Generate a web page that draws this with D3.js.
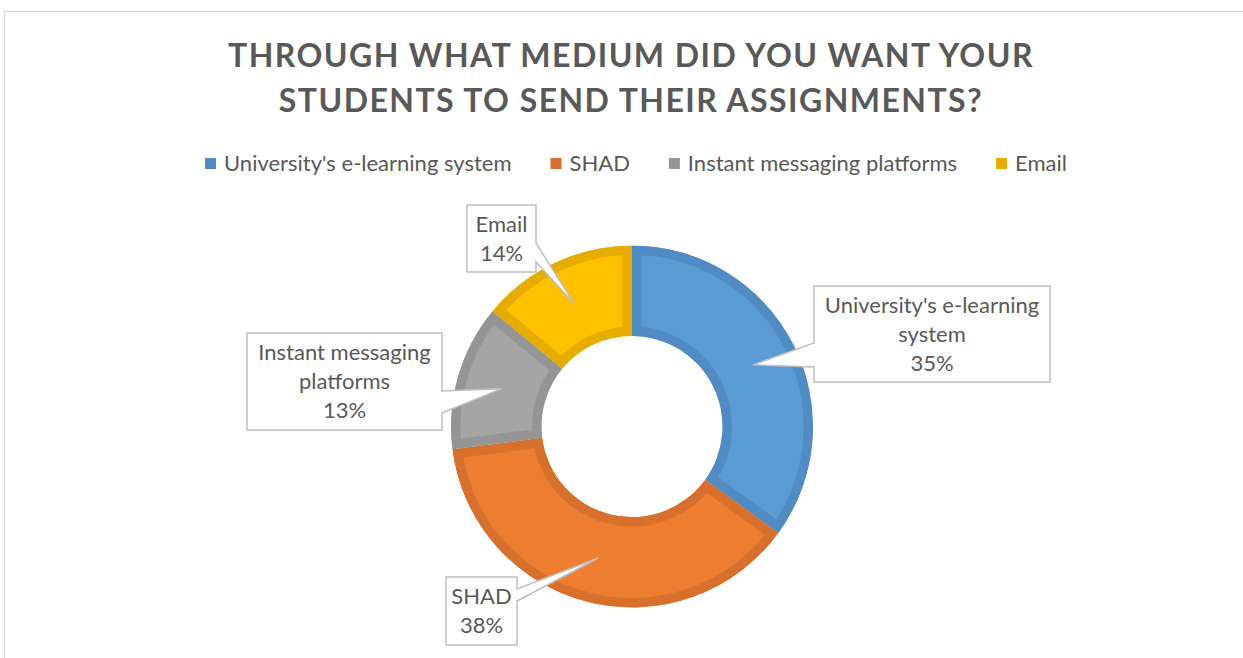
<!DOCTYPE html>
<html>
<head>
<meta charset="utf-8">
<script src="https://cdn.jsdelivr.net/npm/d3@7"></script>
<style>
	html, body { margin: 0; padding: 0; background: #fff; }
	svg { display: block; font-family: Lato, "Open Sans", sans-serif; }
</style>
</head>
<body>
<svg id="chart"></svg>
<script>
const titleLines = ['THROUGH WHAT MEDIUM DID YOU WANT YOUR', 'STUDENTS TO SEND THEIR ASSIGNMENTS?']
const categories = ["University's e-learning system", 'SHAD', 'Instant messaging platforms', 'Email']
const shares = [35, 38, 13, 14]
const fills = ['#5b9bd5', '#ed7d31', '#a5a5a5', '#ffc000']
const edges = ['#508bc3', '#d7702c', '#959595', '#e6ad00']

const W = 1243
const H = 658
const TEXT = '#595959'
const cx = 632
const cy = 426.5
const outerR = 181
const innerR = 90.5

// callout boxes, in page pixels; wedge base sits on one side of the box
const callouts = [
	{x: 814, y: 286, w: 236, h: 96, side: 'left', b1: 57, b2: 81},
	{x: 446, y: 577, w: 71, h: 68, side: 'right', b1: 12, b2: 24},
	{x: 247, y: 333, w: 195, h: 97, side: 'right', b1: 58, b2: 80},
	{x: 467, y: 205, w: 69, h: 67, side: 'right', b1: 38, b2: 57}
]

const svg = d3.select('#chart').attr('width', W).attr('height', H)

// chart frame
svg.append('rect')
	.attr('x', 4.5).attr('y', 11.5)
	.attr('width', W + 10).attr('height', H + 10)
	.attr('fill', 'none')
	.attr('stroke', '#d9d9d9')
	.attr('stroke-width', 1.3)

// title
svg.append('g')
	.selectAll('text')
	.data(titleLines)
	.join('text')
	.attr('x', 631)
	.attr('y', (d, i) => 67 + i * 45)
	.attr('text-anchor', 'middle')
	.attr('fill', TEXT)
	.attr('font-weight', 700)
	.attr('font-size', 32)
	.attr('letter-spacing', 1.45)
	.text(d => d)

// legend
const legend = svg.append('g').attr('font-size', 22).attr('fill', TEXT)
const items = legend.selectAll('g')
	.data(categories)
	.join('g')
items.append('rect')
	.attr('width', 11).attr('height', 11)
	.attr('y', -6)
	.attr('fill', (d, i) => edges[i])
items.append('text')
	.attr('x', 19)
	.attr('y', 0)
	.attr('dy', '0.32em')
	.text(d => d)
let lx = 0
const lgap = 39
items.each(function () {
	const g = d3.select(this)
	g.attr('transform', `translate(${lx},0)`)
	lx += 19 + g.select('text').node().getComputedTextLength() + lgap
})
lx -= lgap
legend.attr('transform', `translate(${636 - lx / 2},164)`)

// donut
const pie = d3.pie().sort(null).value(d => d)
const arc = d3.arc().innerRadius(innerR).outerRadius(outerR)
const arcs = pie(shares)

const defs = svg.append('defs')
defs.selectAll('clipPath')
	.data(arcs)
	.join('clipPath')
	.attr('id', (d, i) => `slice-${i}`)
	.append('path')
	.attr('d', arc)

const donut = svg.append('g').attr('transform', `translate(${cx},${cy})`)
donut.selectAll('path')
	.data(arcs)
	.join('path')
	.attr('d', arc)
	.attr('fill', (d, i) => fills[i])
	.attr('stroke', (d, i) => edges[i])
	.attr('stroke-width', 19)
	.attr('stroke-linejoin', 'miter')
	.attr('clip-path', (d, i) => `url(#slice-${i})`)

// callouts
function calloutPath (c, tip) {
	const r = c.x + c.w
	const b = c.y + c.h
	if (c.side === 'left') {
		return `M${c.x},${c.y}H${r}V${b}H${c.x}V${c.y + c.b2}L${tip[0]},${tip[1]}L${c.x},${c.y + c.b1}Z`
	}
	return `M${c.x},${c.y}H${r}V${c.y + c.b1}L${tip[0]},${tip[1]}L${r},${c.y + c.b2}V${b}H${c.x}Z`
}

const labels = svg.append('g').attr('font-size', 22).attr('fill', TEXT)
arcs.forEach((a, i) => {
	const c = callouts[i]
	const cen = arc.centroid(a)
	const tip = [cx + cen[0], cy + cen[1]]
	labels.append('path')
		.attr('d', calloutPath(c, tip))
		.attr('fill', '#fff')
		.attr('stroke', '#bfbfbf')
		.attr('stroke-width', 1.5)

	// wrap the category name to the box width
	const probe = labels.append('text')
	const words = categories[i].split(' ')
	const lines = []
	let line = ''
	words.forEach(w => {
		const next = line ? line + ' ' + w : w
		probe.text(next)
		if (line && probe.node().getComputedTextLength() > c.w - 10) {
			lines.push(line)
			line = w
		} else {
			line = next
		}
	})
	lines.push(line)
	probe.remove()
	lines.push(shares[i] + '%')

	const lh = 29
	const top = c.y + c.h / 2 - (lines.length * lh) / 2
	labels.append('g')
		.selectAll('text')
		.data(lines)
		.join('text')
		.attr('x', c.x + c.w / 2)
		.attr('y', (d, k) => top + k * lh + lh / 2)
		.attr('dy', '0.36em')
		.attr('text-anchor', 'middle')
		.text(d => d)
})
</script>
</body>
</html>
